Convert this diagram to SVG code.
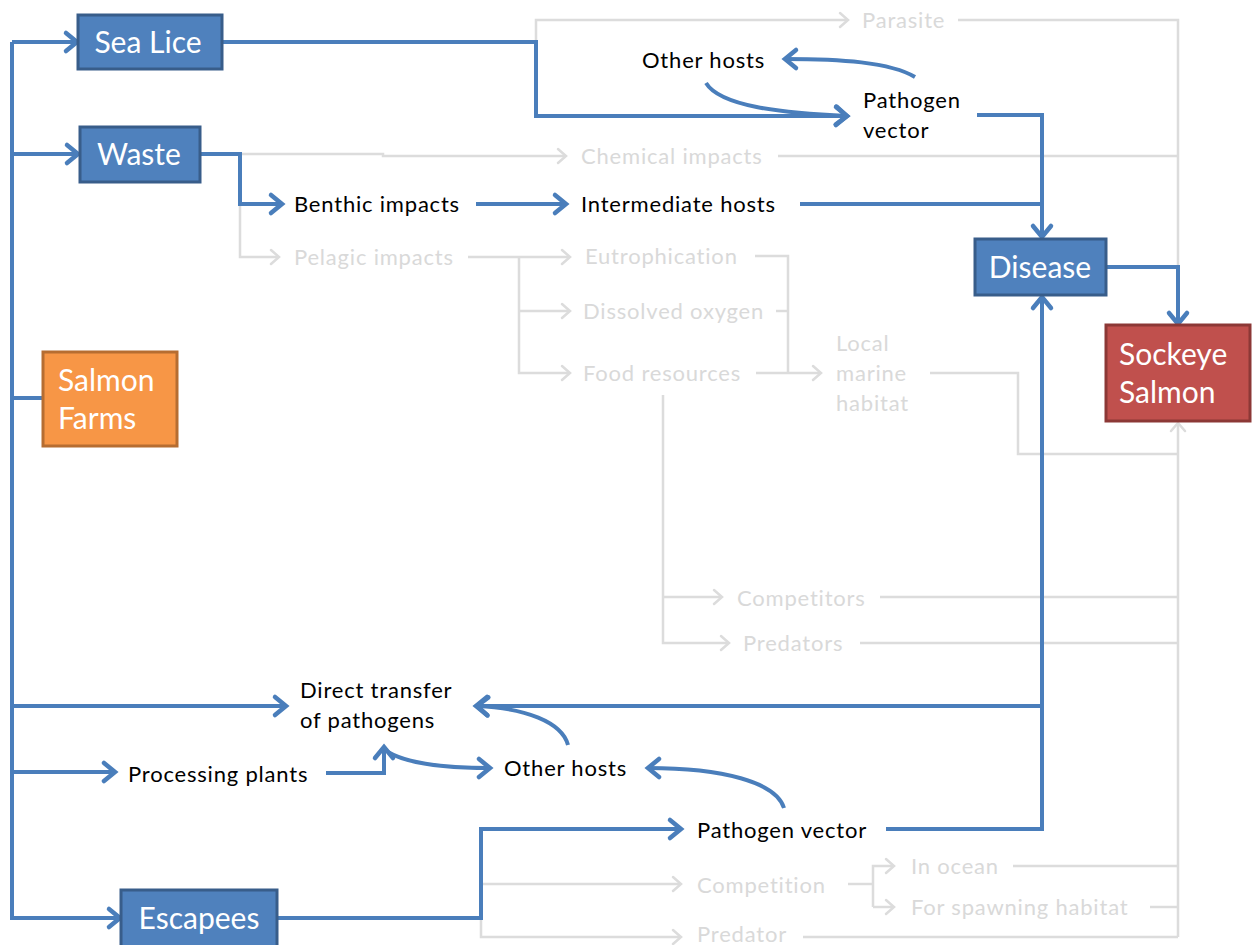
<svg xmlns="http://www.w3.org/2000/svg" width="1252" height="945" viewBox="0 0 1252 945">
<defs>
<style>
.b{fill:none;stroke:#4A7EBB;stroke-width:4;stroke-linejoin:miter}
.g{fill:none;stroke:#DCDCDC;stroke-width:2.5}
.bx{fill:#4F81BD;stroke:#385D8A;stroke-width:3}
.bt{font-family:Lato,'Liberation Sans',sans-serif;font-size:30px;fill:#fff}
.k{font-family:Lato,'Liberation Sans',sans-serif;font-size:22px;letter-spacing:0.8px;fill:#000}
.gt{font-family:Lato,'Liberation Sans',sans-serif;font-size:22px;letter-spacing:0.8px;fill:#D9D9D9}
</style>
<marker id="ab" markerUnits="userSpaceOnUse" viewBox="-15 -12 19 24" markerWidth="19" markerHeight="24" refX="0" refY="0" orient="auto" overflow="visible">
<path d="M-11,-9 L0,0 L-11,9" fill="none" stroke="#4A7EBB" stroke-width="4.5" stroke-linecap="round"/>
</marker>
<marker id="ag" markerUnits="userSpaceOnUse" viewBox="-12 -10 14 20" markerWidth="14" markerHeight="20" refX="0" refY="0" orient="auto" overflow="visible">
<path d="M-8,-7 L0,0 L-8,7" fill="none" stroke="#DCDCDC" stroke-width="2.5" stroke-linecap="round"/>
</marker>
</defs>
<rect width="1252" height="945" fill="#fff"/>

<g id="connectors">
<path class="g" d="M536,42 L536,20 L848,20" marker-end="url(#ag)"/>
<path class="g" d="M958,20 L1178,20 L1178,267"/>
<path class="g" d="M200,154 L383,154 L383,156 L566,156" marker-end="url(#ag)"/>
<path class="g" d="M778,156 L1178,156"/>
<path class="g" d="M240,204 L240,257 L279,257" marker-end="url(#ag)"/>
<path class="g" d="M468,257 L570,257" marker-end="url(#ag)"/>
<path class="g" d="M519,257 L519,373 L570,373" marker-end="url(#ag)"/>
<path class="g" d="M519,311 L570,311" marker-end="url(#ag)"/>
<path class="g" d="M755,256 L788,256 L788,373"/>
<path class="g" d="M776,311 L788,311"/>
<path class="g" d="M756,373 L821,373" marker-end="url(#ag)"/>
<path class="g" d="M930,373 L1018,373 L1018,454 L1178,454"/>
<path class="g" d="M663,395 L663,643 L729,643" marker-end="url(#ag)"/>
<path class="g" d="M663,597 L722,597" marker-end="url(#ag)"/>
<path class="g" d="M880,597 L1178,597"/>
<path class="g" d="M860,643 L1178,643"/>
<path class="g" d="M481,884 L681,884" marker-end="url(#ag)"/>
<path class="g" d="M848,884 L873,884"/>
<path class="g" d="M873,907 L873,866 L894,866" marker-end="url(#ag)"/>
<path class="g" d="M873,907 L894,907" marker-end="url(#ag)"/>
<path class="g" d="M1013,866 L1178,866"/>
<path class="g" d="M1150,907 L1178,907"/>
<path class="g" d="M481,918 L481,937 L681,937" marker-end="url(#ag)"/>
<path class="g" d="M803,937 L1178,937"/>
<path class="g" d="M1178,937 L1178,423" marker-end="url(#ag)"/>

<path class="b" d="M12,42 L12,918 L120,918" marker-end="url(#ab)"/>
<path class="b" d="M12,42 L77,42" marker-end="url(#ab)"/>
<path class="b" d="M12,154 L78,154" marker-end="url(#ab)"/>
<path class="b" d="M12,398 L43,398"/>
<path class="b" d="M12,706 L286,706" marker-end="url(#ab)"/>
<path class="b" d="M12,772 L115,772" marker-end="url(#ab)"/>
<path class="b" d="M222,42 L536,42 L536,116 L847,116" marker-end="url(#ab)"/>
<path class="b" d="M706,83 C720,106 780,113 847,116" marker-end="url(#ab)"/>
<path class="b" d="M915,77 C890,62 840,59 785,59" marker-end="url(#ab)"/>
<path class="b" d="M977,115 L1042,115 L1042,237" marker-end="url(#ab)"/>
<path class="b" d="M800,204 L1042,204"/>
<path class="b" d="M200,154 L240,154 L240,204 L282,204" marker-end="url(#ab)"/>
<path class="b" d="M476,204 L566,204" marker-end="url(#ab)"/>
<path class="b" d="M1106,267 L1178,267 L1178,324" marker-end="url(#ab)"/>
<path class="b" d="M886,829 L1042,829 L1042,297" marker-end="url(#ab)"/>
<path class="b" d="M1042,706 L476,706" marker-end="url(#ab)"/>
<path class="b" d="M568,745 C562,722 525,708 477,706" marker-end="url(#ab)"/>
<path class="b" d="M784,808 C776,782 722,768 648,768" marker-end="url(#ab)"/>
<path class="b" d="M326,773 L384,773 L384,747" marker-end="url(#ab)"/>
<path class="b" d="M388,752 C410,765 450,768 490,768" marker-end="url(#ab)"/>
<path class="b" d="M277,918 L481,918 L481,829 L681,829" marker-end="url(#ab)"/>
</g>

<g id="sea-lice"><rect class="bx" x="78" y="15" width="144" height="54"/><text class="bt" x="148" y="53" text-anchor="middle">Sea Lice</text></g>
<g id="waste"><rect class="bx" x="80" y="127" width="120" height="55"/><text class="bt" x="139" y="165" text-anchor="middle">Waste</text></g>
<g id="salmon-farms"><rect x="43" y="352" width="134" height="94" fill="#F79646" stroke="#B66D31" stroke-width="3"/><text class="bt" x="58" y="391">Salmon</text><text class="bt" x="58" y="429">Farms</text></g>
<g id="disease"><rect class="bx" x="975" y="239" width="131" height="56"/><text class="bt" x="1040" y="278" text-anchor="middle">Disease</text></g>
<g id="sockeye-salmon"><rect x="1106" y="325" width="144" height="96" fill="#C0504D" stroke="#8C3836" stroke-width="3"/><text class="bt" x="1119" y="365">Sockeye</text><text class="bt" x="1119" y="403">Salmon</text></g>
<g id="escapees"><rect class="bx" x="121" y="890" width="156" height="58"/><text class="bt" x="199" y="929" text-anchor="middle">Escapees</text></g>

<g id="other-hosts-top"><text class="k" x="642" y="68">Other hosts</text></g>
<g id="pathogen-vector-top"><text class="k" x="863" y="108">Pathogen</text><text class="k" x="863" y="138">vector</text></g>
<g id="benthic"><text class="k" x="294" y="212">Benthic impacts</text></g>
<g id="intermediate"><text class="k" x="581" y="212">Intermediate hosts</text></g>
<g id="direct-transfer"><text class="k" x="300" y="698">Direct transfer</text><text class="k" x="300" y="728">of pathogens</text></g>
<g id="processing"><text class="k" x="128" y="782">Processing plants</text></g>
<g id="other-hosts-bottom"><text class="k" x="504" y="776">Other hosts</text></g>
<g id="pathogen-vector-bottom"><text class="k" x="697" y="838">Pathogen vector</text></g>

<g id="parasite"><text class="gt" x="862" y="28">Parasite</text></g>
<g id="chemical"><text class="gt" x="581" y="164">Chemical impacts</text></g>
<g id="pelagic"><text class="gt" x="294" y="265">Pelagic impacts</text></g>
<g id="eutrophication"><text class="gt" x="585" y="264">Eutrophication</text></g>
<g id="dissolved"><text class="gt" x="583" y="319">Dissolved oxygen</text></g>
<g id="food"><text class="gt" x="583" y="381">Food resources</text></g>
<g id="local-habitat"><text class="gt" x="836" y="351">Local</text><text class="gt" x="836" y="381">marine</text><text class="gt" x="836" y="411">habitat</text></g>
<g id="competitors"><text class="gt" x="737" y="606">Competitors</text></g>
<g id="predators"><text class="gt" x="743" y="651">Predators</text></g>
<g id="competition"><text class="gt" x="697" y="893">Competition</text></g>
<g id="in-ocean"><text class="gt" x="911" y="874">In ocean</text></g>
<g id="spawning"><text class="gt" x="911" y="915">For spawning habitat</text></g>
<g id="predator"><text class="gt" x="697" y="942">Predator</text></g>
</svg>
